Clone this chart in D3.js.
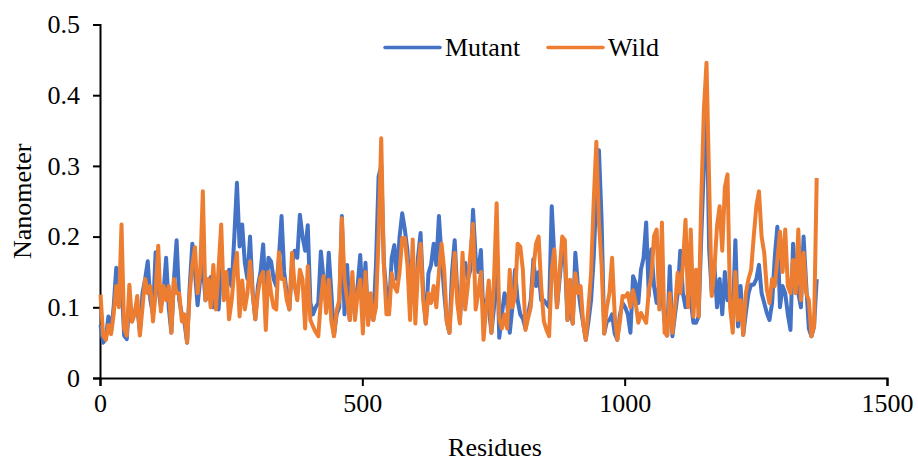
<!DOCTYPE html>
<html lang="en">
<head>
    <meta charset="UTF-8">
    <title>RMSF Mutant vs Wild</title>
    <script src="https://d3js.org/d3.v7.min.js"></script>
    <style>
        body { margin: 0; background: #fff; }
        svg text { font-family: "Liberation Serif", "Times New Roman", serif; fill: #000; }
    </style>
</head>
<body>
    <div id="chart"></div>

    <script>
        // residues are sampled every 5, starting at residue 1
        var residueStart = 1;
        var residueStep = 5;

        var mutant = [
            0.075, 0.05, 0.055, 0.087, 0.065, 0.10, 0.156, 0.12, 0.135, 0.06,
            0.055, 0.11, 0.08, 0.095, 0.10, 0.065, 0.12, 0.14, 0.165, 0.11,
            0.09, 0.178, 0.13, 0.10, 0.12, 0.17, 0.10, 0.064, 0.14, 0.195,
            0.11, 0.09, 0.078, 0.05, 0.13, 0.19, 0.15, 0.103, 0.14, 0.16,
            0.11, 0.12, 0.143, 0.10, 0.13, 0.097, 0.153, 0.13, 0.12, 0.153,
            0.13, 0.2, 0.276, 0.186, 0.217, 0.163, 0.14, 0.2, 0.12, 0.083,
            0.13, 0.15, 0.189, 0.11, 0.17, 0.165, 0.14, 0.13, 0.17, 0.229,
            0.15, 0.12, 0.097, 0.16, 0.18, 0.17, 0.231, 0.2, 0.18, 0.216,
            0.106, 0.09, 0.10, 0.106, 0.179, 0.14, 0.11, 0.177, 0.12, 0.06,
            0.09, 0.10, 0.229, 0.09, 0.16, 0.082, 0.12, 0.10, 0.13, 0.174,
            0.10, 0.163, 0.08, 0.11, 0.082, 0.16, 0.285, 0.30, 0.163, 0.12,
            0.10, 0.17, 0.188, 0.14, 0.20, 0.233, 0.21, 0.18, 0.106, 0.15,
            0.10, 0.17, 0.205, 0.12, 0.077, 0.148, 0.16, 0.19, 0.16, 0.229,
            0.17, 0.12, 0.08, 0.064, 0.15, 0.195, 0.12, 0.08, 0.153, 0.163,
            0.14, 0.153, 0.238, 0.17, 0.15, 0.181, 0.08, 0.11, 0.10, 0.064,
            0.10, 0.20, 0.057, 0.09, 0.12, 0.106, 0.064, 0.10, 0.153, 0.11,
            0.09, 0.084, 0.07, 0.09, 0.11, 0.168, 0.13, 0.15, 0.11, 0.11,
            0.105, 0.10, 0.243, 0.17, 0.10, 0.14, 0.18, 0.17, 0.082, 0.10,
            0.077, 0.177, 0.13, 0.10, 0.077, 0.054, 0.08, 0.11, 0.17, 0.26,
            0.322, 0.224, 0.063, 0.08, 0.082, 0.09, 0.063, 0.054, 0.09, 0.106,
            0.10, 0.09, 0.064, 0.144, 0.134, 0.106, 0.153, 0.17, 0.22, 0.116,
            0.182, 0.13, 0.106, 0.134, 0.12, 0.08, 0.06, 0.158, 0.059, 0.09,
            0.12, 0.18, 0.12, 0.10, 0.12, 0.11, 0.078, 0.078, 0.087, 0.20,
            0.30, 0.41, 0.182, 0.12, 0.16, 0.10, 0.14, 0.09, 0.15, 0.11,
            0.12, 0.082, 0.195, 0.073, 0.13, 0.061, 0.092, 0.12, 0.132, 0.132,
            0.14, 0.16, 0.12, 0.106, 0.092, 0.082, 0.106, 0.17, 0.214, 0.10,
            0.13, 0.12, 0.09, 0.068, 0.19, 0.14, 0.12, 0.10, 0.2, 0.132,
            0.07, 0.059, 0.073, 0.14
        ];

        var wild = [
            0.118, 0.06, 0.054, 0.075, 0.062, 0.09, 0.13, 0.10, 0.217, 0.07,
            0.06, 0.132, 0.08, 0.09, 0.116, 0.06, 0.10, 0.14, 0.12, 0.13,
            0.08, 0.12, 0.187, 0.094, 0.13, 0.11, 0.13, 0.064, 0.14, 0.12,
            0.12, 0.08, 0.09, 0.05, 0.12, 0.16, 0.185, 0.12, 0.15, 0.264,
            0.11, 0.14, 0.10, 0.16, 0.097, 0.155, 0.217, 0.11, 0.15, 0.083,
            0.11, 0.153, 0.177, 0.087, 0.138, 0.097, 0.12, 0.165, 0.12, 0.083,
            0.12, 0.143, 0.15, 0.068, 0.15, 0.12, 0.10, 0.097, 0.178, 0.14,
            0.14, 0.11, 0.097, 0.177, 0.13, 0.11, 0.153, 0.14, 0.07, 0.158,
            0.082, 0.073, 0.065, 0.059, 0.11, 0.144, 0.092, 0.139, 0.08, 0.059,
            0.095, 0.11, 0.226, 0.14, 0.11, 0.082, 0.15, 0.082, 0.12, 0.139,
            0.063, 0.15, 0.075, 0.12, 0.082, 0.10, 0.20, 0.339, 0.16, 0.09,
            0.09, 0.148, 0.13, 0.122, 0.15, 0.198, 0.198, 0.16, 0.082, 0.196,
            0.077, 0.153, 0.19, 0.11, 0.077, 0.12, 0.106, 0.13, 0.10, 0.15,
            0.19, 0.153, 0.08, 0.064, 0.12, 0.177, 0.106, 0.077, 0.177, 0.097,
            0.13, 0.177, 0.218, 0.097, 0.12, 0.15, 0.054, 0.10, 0.138, 0.064,
            0.14, 0.247, 0.083, 0.07, 0.09, 0.07, 0.153, 0.10, 0.115, 0.19,
            0.186, 0.153, 0.068, 0.085, 0.10, 0.153, 0.19, 0.2, 0.129, 0.08,
            0.068, 0.059, 0.153, 0.182, 0.10, 0.15, 0.2, 0.195, 0.082, 0.139,
            0.077, 0.148, 0.12, 0.13, 0.077, 0.054, 0.10, 0.148, 0.25, 0.334,
            0.22, 0.16, 0.063, 0.10, 0.12, 0.17, 0.09, 0.054, 0.08, 0.116,
            0.115, 0.12, 0.10, 0.124, 0.106, 0.078, 0.092, 0.085, 0.078, 0.124,
            0.144, 0.201, 0.21, 0.097, 0.22, 0.064, 0.06, 0.12, 0.064, 0.10,
            0.149, 0.12, 0.16, 0.224, 0.10, 0.21, 0.087, 0.153, 0.087, 0.252,
            0.38, 0.446, 0.276, 0.116, 0.153, 0.215, 0.243, 0.18, 0.27, 0.288,
            0.10, 0.064, 0.15, 0.082, 0.11, 0.061, 0.12, 0.14, 0.153, 0.2,
            0.243, 0.264, 0.2, 0.177, 0.125, 0.106, 0.14, 0.13, 0.167, 0.207,
            0.15, 0.21, 0.13, 0.12, 0.167, 0.12, 0.21, 0.11, 0.177, 0.12,
            0.11, 0.059, 0.073, 0.283
        ];

        var xTicks = [0, 500, 1000, 1500];
        var yTicks = [0, 0.1, 0.2, 0.3, 0.4, 0.5];
        var seriesNames = ["Mutant", "Wild"];
        var seriesColors = ["#4472C4", "#ED7D31"];

        var svg = d3.select("#chart")
            .append("svg")
            .attr("width", 918)
            .attr("height", 462);

        var x = d3.scaleLinear().domain([0, 1500]).range([100, 887]);
        var y = d3.scaleLinear().domain([0, 0.5]).range([378, 24.5]);

        // axes
        var xAxis = svg.append("g")
            .attr("transform", "translate(0," + y(0) + ")")
            .call(d3.axisBottom(x).tickValues(xTicks).tickSize(8).tickPadding(8)
                .tickFormat(d3.format("d")));
        var yAxis = svg.append("g")
            .attr("transform", "translate(" + x(0) + ",0)")
            .call(d3.axisLeft(y).tickValues(yTicks).tickSize(7).tickPadding(13)
                .tickFormat(function(d) { return d === 0 ? "0" : d3.format(".1f")(d); }));

        [xAxis, yAxis].forEach(function(a) {
            a.select(".domain").attr("stroke", "#000").attr("stroke-width", 2);
            a.selectAll(".tick line").attr("stroke", "#000").attr("stroke-width", 2);
            a.selectAll(".tick text")
                .style("font-family", '"Liberation Serif", "Times New Roman", serif')
                .style("font-size", "26px")
                .attr("fill", "#000");
        });

        // lines
        var line = d3.line()
            .x(function(d, i) { return x(residueStart + i * residueStep); })
            .y(function(d) { return y(d); });

        [mutant, wild].forEach(function(series, k) {
            svg.append("path")
                .datum(series)
                .attr("fill", "none")
                .attr("stroke", seriesColors[k])
                .attr("stroke-width", 4)
                .attr("stroke-linejoin", "round")
                .attr("d", line);
        });

        // axis titles
        svg.append("text")
            .attr("x", 495)
            .attr("y", 456)
            .attr("text-anchor", "middle")
            .style("font-size", "26px")
            .text("Residues");

        svg.append("text")
            .attr("transform", "translate(31," + ((y(0) + y(0.5)) / 2) + ") rotate(-90)")
            .attr("text-anchor", "middle")
            .style("font-size", "26px")
            .text("Nanometer");

        // legend
        var legendX = [385, 548];
        var legend = svg.append("g");
        seriesNames.forEach(function(name, k) {
            legend.append("line")
                .attr("x1", legendX[k]).attr("x2", legendX[k] + 55)
                .attr("y1", 47.5).attr("y2", 47.5)
                .attr("stroke", seriesColors[k])
                .attr("stroke-width", 3.5)
                .attr("stroke-linecap", "round");
            legend.append("text")
                .attr("x", legendX[k] + 60)
                .attr("y", 56)
                .style("font-size", "26px")
                .text(name);
        });
    </script>
</body>
</html>
